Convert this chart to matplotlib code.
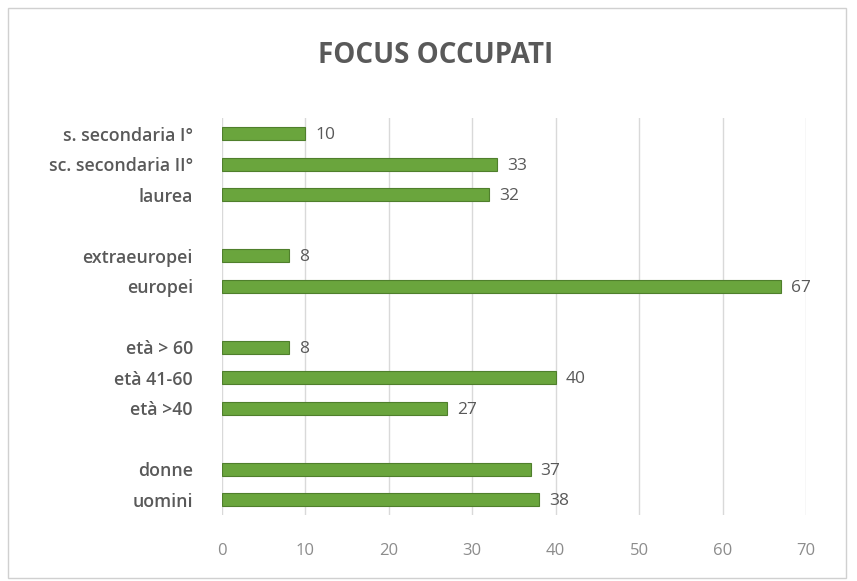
import numpy as np
import matplotlib.pyplot as plt
from matplotlib.patches import Rectangle

# ------------------ DATI ------------------
CATEGORIE = ["uomini", "donne", "", "età >40", "età 41-60", "età > 60", "",
             "europei", "extraeuropei", "", "laurea", "sc. secondaria II°",
             "s. secondaria I°"]
VALORI = [38, 37, None, 27, 40, 8, None, 67, 8, None, 32, 33, 10]
TICKS_X = [0, 10, 20, 30, 40, 50, 60, 70]

GRIGIO = "#595959"
VERDE = "#6aa53d"

plt.rcParams['font.family'] = ['Open Sans', 'DejaVu Sans']

fig = plt.figure(figsize=(8.57, 5.81), dpi=100)
ax = fig.add_axes([0.259, 0.1136, 0.6815, 0.6825])

pos = np.arange(len(CATEGORIE))
for p, v in zip(pos, VALORI):
    if v is None:
        continue
    ax.barh(p, v, height=0.42, color=VERDE, edgecolor="#4f7f2c", linewidth=0.8, zorder=3)
    ax.text(v + 1.2, p - 0.05, str(v), va="center", ha="left", fontsize=12.5, color=GRIGIO)

ax.set_xlim(0, 70)
ax.set_ylim(-0.5, len(CATEGORIE) - 0.5)
ax.set_xticks(TICKS_X)
ax.set_xticklabels([str(t) for t in TICKS_X], fontsize=12, color="#8c8c8c")
ax.set_yticks(pos)
ax.set_yticklabels(CATEGORIE, fontsize=12.8, fontweight="semibold", color=GRIGIO)
ax.tick_params(axis="x", length=0, pad=20)
ax.tick_params(axis="y", length=0, pad=21)
ax.grid(axis="x", color="#d9d9d9", linewidth=1, zorder=0)
for s in ax.spines.values():
    s.set_visible(False)

fig.text(0.508, 0.905, "FOCUS OCCUPATI", ha="center", va="center",
         fontsize=20, fontweight="bold", color=GRIGIO)

# cornice del grafico
fig.patches.append(Rectangle((0.009, 0.005), 0.978, 0.982, transform=fig.transFigure,
                             fill=False, edgecolor="#d0d0d0", linewidth=1))

fig.savefig("out.png", dpi=100)
